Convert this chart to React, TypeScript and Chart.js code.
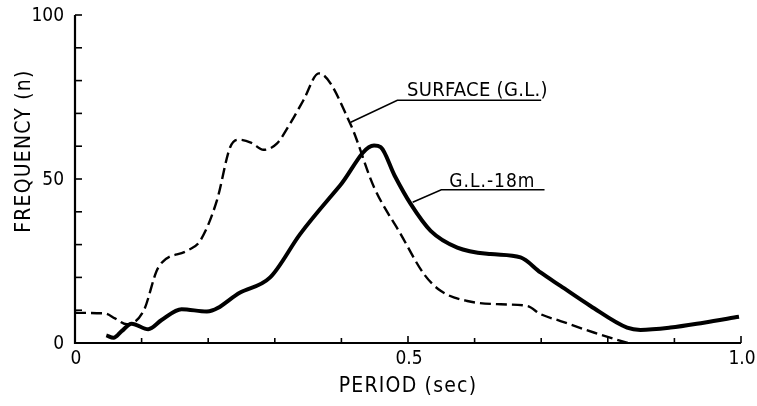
import React, { useEffect, useRef } from "react";
import { Chart, registerables } from "chart.js";

Chart.register(...registerables);

// G.L.-18m (solid)
const glPeriod = [0.047, 0.058, 0.07, 0.085, 0.11, 0.13, 0.16, 0.198, 0.248, 0.293, 0.338, 0.398, 0.449, 0.459, 0.48, 0.504, 0.534, 0.574, 0.624, 0.669, 0.699, 0.729, 0.774, 0.829, 0.849, 0.894, 0.944, 0.997];
const glFreq = [2.3, 1.6, 3.6, 5.9, 4.2, 7.0, 10.3, 9.6, 15.4, 20.0, 33.2, 48.0, 60.2, 59.7, 51.0, 42.4, 34.2, 29.1, 27.1, 26.1, 21.5, 17.4, 11.3, 4.7, 4.0, 4.7, 6.2, 8.0];

// SURFACE (G.L.) (dashed)
const surfacePeriod = [0, 0.045, 0.06, 0.078, 0.103, 0.125, 0.168, 0.188, 0.213, 0.233, 0.246, 0.265, 0.283, 0.303, 0.323, 0.343, 0.366, 0.413, 0.449, 0.489, 0.524, 0.549, 0.589, 0.639, 0.679, 0.699, 0.729, 0.779, 0.83];
const surfaceFreq = [9.2, 9.0, 7.5, 5.7, 9.8, 23.0, 28.1, 31.2, 43.4, 59.7, 62.0, 61.0, 58.9, 60.8, 66.9, 74.0, 82.2, 67.0, 47.5, 33.2, 21.0, 15.9, 12.8, 11.8, 11.3, 8.8, 6.7, 3.2, 0];

const xTickLabels = [
  { v: 0, t: "0" },
  { v: 0.5, t: "0.5" },
  { v: 1.0, t: "1.0" },
];
const yTickLabels = [
  { v: 0, t: "0" },
  { v: 50, t: "50" },
  { v: 100, t: "100" },
];

const FONT = '"DejaVu Sans Condensed", "Liberation Sans Narrow", "DejaVu Sans", sans-serif';

const decorPlugin = {
  id: "decor",
  afterDraw(chart: any) {
    const ctx = chart.ctx as CanvasRenderingContext2D & { letterSpacing?: string };
    const xs = chart.scales.x;
    const ys = chart.scales.y;
    const X = (v: number) => xs.getPixelForValue(v);
    const Y = (v: number) => ys.getPixelForValue(v);
    ctx.save();
    ctx.strokeStyle = "#000";
    ctx.fillStyle = "#000";
    ctx.lineCap = "butt";
    // axes
    ctx.lineWidth = 2.2;
    ctx.beginPath();
    ctx.moveTo(X(0), Y(100));
    ctx.lineTo(X(0), Y(0));
    ctx.lineTo(X(1), Y(0));
    ctx.stroke();
    // y ticks
    ctx.lineWidth = 1.6;
    for (let v = 10; v <= 100; v += 10) {
      ctx.beginPath();
      ctx.moveTo(X(0), Y(v));
      ctx.lineTo(X(0) + 7, Y(v));
      ctx.stroke();
    }
    // x ticks
    for (let i = 1; i <= 10; i++) {
      const v = i / 10;
      ctx.beginPath();
      ctx.moveTo(X(v), Y(0));
      ctx.lineTo(X(v), Y(0) - (i === 5 || i === 10 ? 7 : 5));
      ctx.stroke();
    }
    // tick labels
    ctx.font = `19px ${FONT}`;
    ctx.textBaseline = "middle";
    ctx.textAlign = "right";
    yTickLabels.forEach((l) => ctx.fillText(l.t, X(0) - 11, Y(l.v) + 1));
    ctx.textAlign = "center";
    xTickLabels.forEach((l) => ctx.fillText(l.t, X(l.v) + 1, Y(0) + 16));
    // axis titles
    ctx.font = `21px ${FONT}`;
    ctx.letterSpacing = "1.2px";
    ctx.fillText("PERIOD (sec)", X(0.5), Y(0) + 44);
    ctx.save();
    ctx.translate(X(0) - 50, Y(58.5));
    ctx.rotate(-Math.PI / 2);
    ctx.fillText("FREQUENCY (n)", 0, 0);
    ctx.restore();
    // annotations
    ctx.lineWidth = 1.6;
    ctx.font = `20px ${FONT}`;
    ctx.letterSpacing = "0.3px";
    ctx.textAlign = "left";
    ctx.textBaseline = "alphabetic";
    ctx.fillText("SURFACE (G.L.)", X(0.4985), Y(75.3));
    ctx.beginPath();
    ctx.moveTo(X(0.7), Y(74));
    ctx.lineTo(X(0.484), Y(74));
    ctx.lineTo(X(0.414), Y(67.3));
    ctx.stroke();
    ctx.font = `19px ${FONT}`;
    ctx.letterSpacing = "1px";
    ctx.fillText("G.L.-18m", X(0.562), Y(47.6));
    ctx.beginPath();
    ctx.moveTo(X(0.705), Y(46.7));
    ctx.lineTo(X(0.55), Y(46.7));
    ctx.lineTo(X(0.507), Y(42.9));
    ctx.stroke();
    ctx.letterSpacing = "0px";
    ctx.restore();
  },
};

export default function App() {
  const ref = useRef<HTMLCanvasElement | null>(null);
  useEffect(() => {
    document.body.style.margin = "0";
    const canvas = ref.current;
    if (!canvas) return;
    const chart = new Chart(canvas, {
      type: "line",
      data: {
        datasets: [
          {
            label: "SURFACE (G.L.)",
            data: surfacePeriod.map((x, i) => ({ x, y: surfaceFreq[i] })),
            borderColor: "#000",
            borderWidth: 2.4,
            borderDash: [11, 5],
            pointRadius: 0,
            cubicInterpolationMode: "monotone",
            fill: false,
          },
          {
            label: "G.L.-18m",
            data: glPeriod.map((x, i) => ({ x, y: glFreq[i] })),
            borderColor: "#000",
            borderWidth: 4,
            pointRadius: 0,
            cubicInterpolationMode: "monotone",
            fill: false,
          },
        ],
      },
      options: {
        animation: false,
        responsive: true,
        maintainAspectRatio: false,
        layout: { padding: { left: 75, right: 16, top: 15, bottom: 63 } },
        plugins: { legend: { display: false }, tooltip: { enabled: false } },
        scales: {
          x: { type: "linear", min: 0, max: 1, display: false },
          y: { type: "linear", min: 0, max: 100, display: false },
        },
      },
      plugins: [decorPlugin],
    });
    return () => chart.destroy();
  }, []);
  return (
    <div style={{ width: 757, height: 406, position: "relative", background: "#fff" }}>
      <canvas ref={ref} />
    </div>
  );
}
